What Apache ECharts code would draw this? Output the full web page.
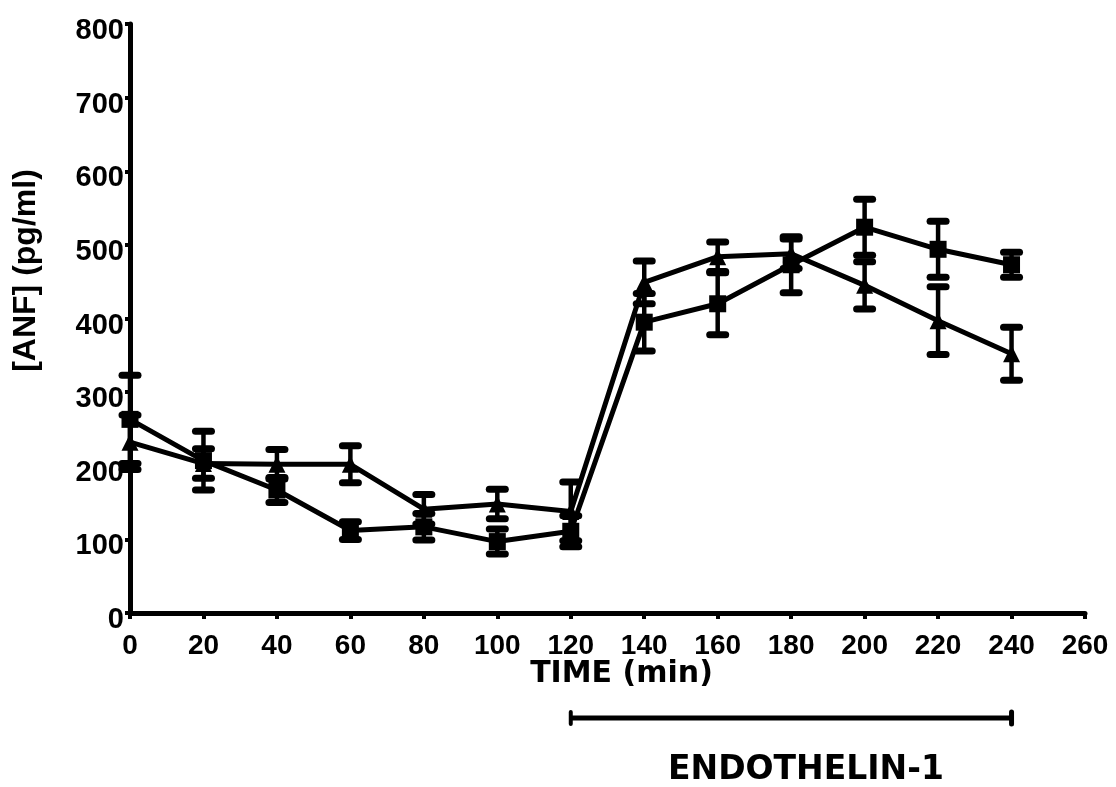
<!DOCTYPE html>
<html>
<head>
<meta charset="utf-8">
<script src="https://cdn.jsdelivr.net/npm/echarts@6/dist/echarts.min.js"></script>
<style>
  html, body { margin: 0; padding: 0; background: #fff; }
  #chart { width: 1116px; height: 787px; }
</style>
</head>
<body>
<div id="chart"></div>
<script>
// sampling times (min)
var times = [0, 20, 40, 60, 80, 100, 120, 140, 160, 180, 200, 220, 240];
// triangles
var triMean = [232, 203, 202, 202, 141, 148, 138, 449, 484, 488, 445, 397, 352];
var triErr = [37, 20, 20, 25, 20, 20, 40, 29, 20, 20, 32, 46, 36];
// squares
var sqMean = [263, 207, 167, 112, 117, 97, 111, 395, 420, 473, 524, 494, 473];
var sqErr = [60, 40, 17, 12, 18, 17, 21, 39, 42, 38, 38, 38, 17];
// infusion period
var infusion = [120, 240];

var chart = echarts.init(document.getElementById('chart'));

function pts(means) {
  return times.map(function (t, i) { return [t, means[i]]; });
}
function errs(means, e) {
  return times.map(function (t, i) { return [t, means[i] - e[i], means[i] + e[i]]; });
}

function renderErr(params, api) {
  var x = api.value(0);
  var lo = api.coord([x, api.value(1)]);
  var hi = api.coord([x, api.value(2)]);
  var w = 8;
  var st = { stroke: '#000', lineWidth: 4.5 };
  var cap = { stroke: '#000', lineWidth: 7, lineCap: 'round' };
  return {
    type: 'group',
    children: [
      { type: 'line', shape: { x1: lo[0], y1: lo[1], x2: hi[0], y2: hi[1] }, style: st },
      { type: 'line', shape: { x1: hi[0] - w, y1: hi[1], x2: hi[0] + w, y2: hi[1] }, style: cap },
      { type: 'line', shape: { x1: lo[0] - w, y1: lo[1], x2: lo[0] + w, y2: lo[1] }, style: cap }
    ]
  };
}

function renderBar(params, api) {
  var a = api.coord([api.value(0), 0]);
  var b = api.coord([api.value(1), 0]);
  var y = a[1] + 105;
  return {
    type: 'group',
    children: [
      { type: 'line', shape: { x1: a[0], y1: y, x2: b[0], y2: y }, style: { stroke: '#000', lineWidth: 5 } },
      { type: 'line', shape: { x1: a[0], y1: y - 6, x2: a[0], y2: y + 6 }, style: { stroke: '#000', lineWidth: 4, lineCap: 'round' } },
      { type: 'line', shape: { x1: b[0], y1: y - 6, x2: b[0], y2: y + 6 }, style: { stroke: '#000', lineWidth: 5, lineCap: 'round' } }
    ]
  };
}

var option = {
  backgroundColor: '#fff',
  animation: false,
  grid: { left: 130, right: 31, top: 24, bottom: 174 },
  xAxis: {
    type: 'value',
    min: 0,
    max: 260,
    interval: 20,
    name: 'TIME (min)',
    nameLocation: 'middle',
    nameGap: 46,
    nameMoveOverlap: false,
    nameTextStyle: { fontFamily: 'DejaVu Sans', fontWeight: 'bold', fontSize: 30, color: '#000', padding: [0, 0, 0, 28] },
    splitLine: { show: false },
    axisLine: { lineStyle: { color: '#000', width: 5 } },
    axisTick: { length: 6, lineStyle: { color: '#000', width: 4 } },
    axisLabel: { margin: 19, color: '#000', fontFamily: 'Liberation Sans', fontWeight: 'bold', fontSize: 28 }
  },
  yAxis: {
    type: 'value',
    min: 0,
    max: 800,
    interval: 100,
    name: '[ANF] (pg/ml)',
    nameLocation: 'middle',
    nameRotate: 90,
    nameGap: 88,
    nameTextStyle: { fontFamily: 'Liberation Sans', fontWeight: 'bold', fontSize: 32, color: '#000', padding: [0, 0, 0, 96] },
    splitLine: { show: false },
    axisLine: { lineStyle: { color: '#000', width: 5 } },
    axisTick: { length: 5, lineStyle: { color: '#000', width: 4 } },
    axisLabel: { margin: 6, color: '#000', fontFamily: 'Liberation Sans', fontWeight: 'bold', fontSize: 29, verticalAlign: 'top', lineHeight: 14 }
  },
  graphic: [
    {
      type: 'text',
      left: 668,
      top: 754,
      style: { text: 'ENDOTHELIN-1', fill: '#000', font: 'bold 33px "DejaVu Sans"' }
    }
  ],
  series: [
    {
      type: 'custom',
      renderItem: renderErr,
      data: errs(sqMean, sqErr),
      encode: { x: 0, y: [1, 2] },
      z: 3
    },
    {
      type: 'custom',
      renderItem: renderErr,
      data: errs(triMean, triErr),
      encode: { x: 0, y: [1, 2] },
      z: 3
    },
    {
      type: 'line',
      data: pts(sqMean),
      symbol: 'rect',
      symbolSize: 17,
      lineStyle: { color: '#000', width: 5 },
      itemStyle: { color: '#000' },
      z: 4
    },
    {
      type: 'line',
      data: pts(triMean),
      symbol: 'triangle',
      symbolSize: 17,
      lineStyle: { color: '#000', width: 5 },
      itemStyle: { color: '#000' },
      z: 4
    },
    {
      type: 'custom',
      renderItem: renderBar,
      clip: false,
      data: [[infusion[0], infusion[1], 0]],
      encode: { x: [0, 1], y: 2 },
      silent: true
    }
  ]
};

chart.setOption(option);
</script>
</body>
</html>
